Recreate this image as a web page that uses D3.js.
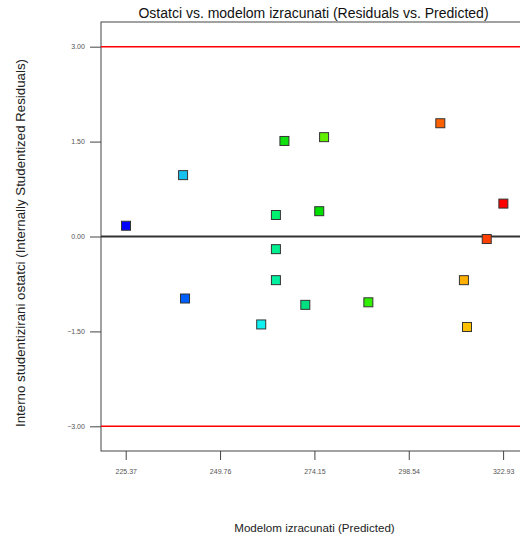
<!DOCTYPE html>
<html>
<head>
<meta charset="utf-8">
<script src="https://cdn.jsdelivr.net/npm/d3@7"></script>
<style>
    body { margin: 0; background: #fff; }
    text { font-family: "Liberation Sans", Arial, sans-serif; }
</style>
</head>
<body>
<div id="chart"></div>
<script>
// predicted values and internally studentized residuals
const predicted = [225.45, 240.2, 240.7, 260.4, 264.2, 264.2, 264.2, 266.4, 276.65,
    275.4, 271.8, 288.1, 306.7, 323.0, 318.7, 312.8, 313.6];
const residuals = [0.17, 0.97, -0.98, -1.39, 0.34, -0.20, -0.69, 1.51, 1.57,
    0.40, -1.08, -1.04, 1.79, 0.52, -0.04, -0.69, -1.43];
const pointColors = ["#0000ff", "#18c0f0", "#0060ff", "#10f0f0", "#00f070", "#00f090",
    "#00f0a0", "#10e010", "#60f000", "#00e000", "#00e080", "#30f000",
    "#ff6000", "#ff0000", "#ff4000", "#ffb000", "#ffc000"];
const xTicks = [225.37, 249.76, 274.15, 298.54, 322.93];
const yTicks = [-3.00, -1.50, 0.00, 1.50, 3.00];
const limits = [3.00, -3.00];

const width = 520, height = 538;
const margin = {top: 22, right: 0, bottom: 87, left: 101};
const plotWidth = width - margin.left - margin.right;
const plotHeight = height - margin.top - margin.bottom;

const svg = d3.select("#chart").append("svg")
    .attr("width", width)
    .attr("height", height);

const g = svg.append("g")
    .attr("transform", `translate(${margin.left}, ${margin.top})`);

const x = d3.scaleLinear()
    .domain([218.98, 327.3])
    .range([0, plotWidth]);

const y = d3.scaleLinear()
    .domain([-3.39, 3.39])
    .range([plotHeight, 0]);

// frame
g.append("rect")
    .attr("width", plotWidth + 2)
    .attr("height", plotHeight)
    .attr("fill", "none")
    .attr("stroke", "#444")
    .attr("stroke-width", 1);

const xAxis = g.append("g")
    .attr("transform", `translate(0, ${plotHeight})`)
    .call(d3.axisBottom(x).tickValues(xTicks).tickFormat(d3.format(".2f"))
        .tickSize(9).tickSizeOuter(0));
xAxis.select(".domain").remove();
xAxis.selectAll("line").attr("stroke", "#444");
xAxis.selectAll("text").attr("font-size", 7).attr("fill", "#555").attr("dy", "1.5em");

const yAxis = g.append("g")
    .call(d3.axisLeft(y).tickValues(yTicks).tickFormat(d3.format(".2f"))
        .tickSize(11).tickSizeOuter(0));
yAxis.select(".domain").remove();
yAxis.selectAll("line").attr("stroke", "#444");
yAxis.selectAll("text").attr("font-size", 7).attr("fill", "#555").attr("dx", "-0.3em");

// limit lines
g.selectAll(".limit")
    .data(limits)
    .enter()
    .append("line")
    .attr("x1", 0)
    .attr("x2", plotWidth + 2)
    .attr("y1", d => y(d))
    .attr("y2", d => y(d))
    .attr("stroke", "#ff0000")
    .attr("stroke-width", 1.5);

// zero line
g.append("line")
    .attr("x1", 0)
    .attr("x2", plotWidth + 2)
    .attr("y1", y(0))
    .attr("y2", y(0))
    .attr("stroke", "#333")
    .attr("stroke-width", 2);

const size = 9;
g.selectAll(".pt")
    .data(predicted)
    .enter()
    .append("rect")
    .attr("x", (d, i) => x(d) - size / 2)
    .attr("y", (d, i) => y(residuals[i]) - size / 2)
    .attr("width", size)
    .attr("height", size)
    .attr("fill", (d, i) => pointColors[i])
    .attr("stroke", "#333")
    .attr("stroke-width", 1);

svg.append("text")
    .attr("x", 313.5)
    .attr("y", 18)
    .attr("text-anchor", "middle")
    .attr("font-size", 14)
    .attr("fill", "#111")
    .text("Ostatci vs. modelom izracunati (Residuals vs. Predicted)");

svg.append("text")
    .attr("x", 314.5)
    .attr("y", 532)
    .attr("text-anchor", "middle")
    .attr("font-size", 11.6)
    .attr("fill", "#222")
    .text("Modelom izracunati (Predicted)");

svg.append("text")
    .attr("transform", "rotate(-90)")
    .attr("x", -243)
    .attr("y", 25)
    .attr("text-anchor", "middle")
    .attr("font-size", 13.3)
    .attr("fill", "#222")
    .text("Interno studentizirani ostatci (Internally Studentized Residuals)");
</script>
</body>
</html>
